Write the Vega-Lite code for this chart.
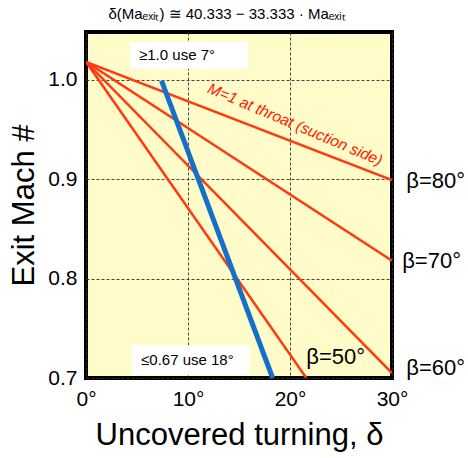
{
  "$schema": "https://vega.github.io/schema/vega-lite/v6.json",
  "width": 306,
  "height": 346,
  "autosize": {"type": "none"},
  "padding": {"left": 86, "top": 32, "right": 76, "bottom": 80},
  "title": {"text": "δ(Maₑₓᵢₜ) ≅ 40.333 − 33.333 · Maₑₓᵢₜ", "font": "Liberation Sans", "fontSize": 15, "fontWeight": "normal", "offset": 10, "dx": -12},
  "config": {
    "view": {"fill": "#FFFCC9", "stroke": "#000000", "strokeWidth": 4},
    "font": "Liberation Sans",
    "axis": {"domain": false, "ticks": false, "labelFlush": false, "gridColor": "#333333", "gridDash": [3, 2], "gridWidth": 1, "gridOpacity": 0.9, "labelFont": "Liberation Sans", "labelFontSize": 21, "labelColor": "#000", "titleFont": "Liberation Sans", "titleFontSize": 31, "titleFontWeight": "normal", "titleColor": "#000"}
  },
  "datasets": {
    "lines": [
      {"beta": "80", "d": 0, "m": 1.018}, {"beta": "80", "d": 30, "m": 0.899},
      {"beta": "70", "d": 0, "m": 1.018}, {"beta": "70", "d": 30, "m": 0.818},
      {"beta": "60", "d": 0, "m": 1.018}, {"beta": "60", "d": 30, "m": 0.705},
      {"beta": "50", "d": 0, "m": 1.018}, {"beta": "50", "d": 21.6, "m": 0.7}
    ],
    "blue": [{"d": 7.4, "m": 0.999}, {"d": 18.3, "m": 0.7}],
    "boxes": [
      {"x1": 4.3, "x2": 15.9, "y1": 1.011, "y2": 1.038, "label": "≥1.0 use 7°", "tx": 5.2, "ty": 1.0245},
      {"x1": 4.5, "x2": 16.1, "y1": 0.703, "y2": 0.733, "label": "≤0.67 use 18°", "tx": 5.4, "ty": 0.718}
    ],
    "betaLabels": [
      {"label": "β=80°", "d": 31.4, "m": 0.898},
      {"label": "β=70°", "d": 31.0, "m": 0.818},
      {"label": "β=60°", "d": 31.4, "m": 0.71},
      {"label": "β=50°", "d": 21.6, "m": 0.721}
    ],
    "note": [{"label": "M=1 at throat (suction side)", "d": 20.5, "m": 0.955}]
  },
  "encoding": {},
  "layer": [
    {
      "data": {"name": "lines"},
      "mark": {"type": "line", "color": "#FF3A10", "strokeWidth": 2.5, "clip": true},
      "encoding": {
        "x": {"field": "d", "type": "quantitative", "scale": {"domain": [0, 30], "nice": false, "zero": false}, "axis": {"values": [0, 10, 20, 30], "labelExpr": "datum.value + '°'", "labelPadding": 10, "labelDx": 4, "title": "Uncovered turning, δ", "titlePadding": 11, "grid": true}},
        "y": {"field": "m", "type": "quantitative", "scale": {"domain": [0.7, 1.048], "nice": false, "zero": false}, "axis": {"values": [0.7, 0.8, 0.9, 1.0], "format": ".1f", "labelPadding": 9, "title": "Exit Mach #", "titlePadding": 7, "grid": true}},
        "detail": {"field": "beta"}
      }
    },
    {
      "data": {"name": "blue"},
      "mark": {"type": "line", "color": "#1570C8", "strokeWidth": 5},
      "encoding": {
        "x": {"field": "d", "type": "quantitative"},
        "y": {"field": "m", "type": "quantitative"}
      }
    },
    {
      "data": {"name": "boxes"},
      "mark": {"type": "rect", "color": "#FFFFFF"},
      "encoding": {
        "x": {"field": "x1", "type": "quantitative"},
        "x2": {"field": "x2"},
        "y": {"field": "y1", "type": "quantitative"},
        "y2": {"field": "y2"}
      }
    },
    {
      "data": {"name": "boxes"},
      "mark": {"type": "text", "align": "left", "baseline": "middle", "fontSize": 15, "color": "#000"},
      "encoding": {
        "x": {"field": "tx", "type": "quantitative"},
        "y": {"field": "ty", "type": "quantitative"},
        "text": {"field": "label"}
      }
    },
    {
      "data": {"name": "betaLabels"},
      "mark": {"type": "text", "align": "left", "baseline": "middle", "fontSize": 22, "color": "#000", "clip": false},
      "encoding": {
        "x": {"field": "d", "type": "quantitative"},
        "y": {"field": "m", "type": "quantitative"},
        "text": {"field": "label"}
      }
    },
    {
      "data": {"name": "note"},
      "mark": {"type": "text", "align": "center", "baseline": "middle", "fontSize": 15.5, "fontStyle": "italic", "color": "#FF1A00", "angle": 23},
      "encoding": {
        "x": {"field": "d", "type": "quantitative"},
        "y": {"field": "m", "type": "quantitative"},
        "text": {"field": "label"}
      }
    }
  ]
}
